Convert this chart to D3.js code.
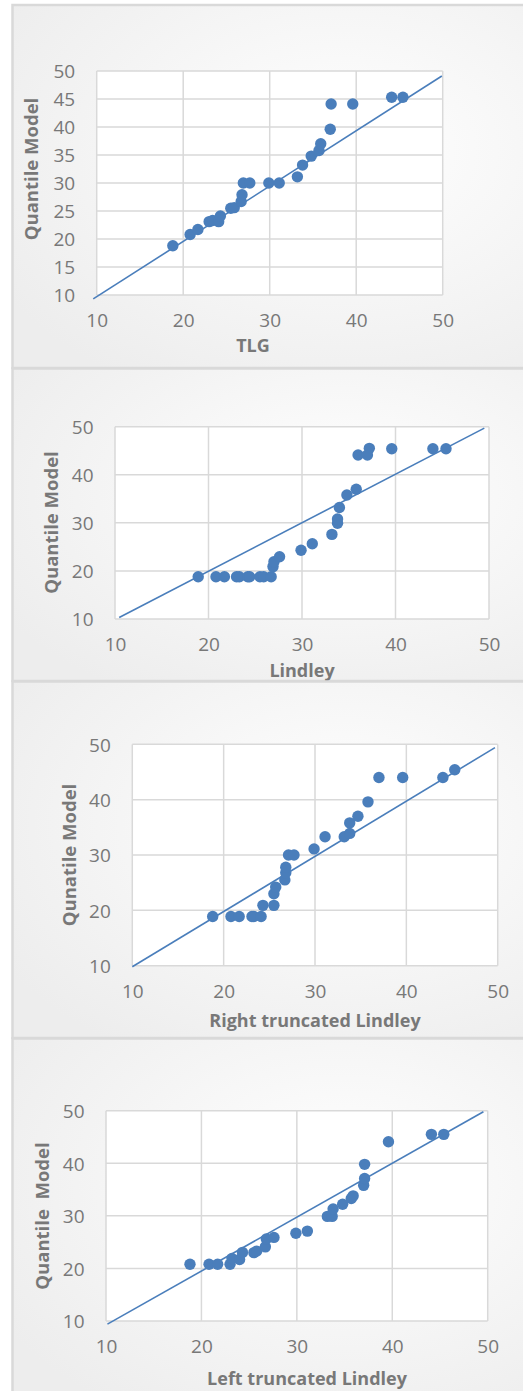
<!DOCTYPE html>
<html>
<head>
<meta charset="utf-8">
<script src="https://cdn.jsdelivr.net/npm/d3@7"></script>
<style>
  body { margin: 0; background: #ffffff; }
  svg { display: block; }
</style>
</head>
<body>
<svg id="chart" width="523" height="1391"></svg>
<script>
// ---- Q-Q plot data: empirical value (x) vs model quantile (y) ----
const tlgX = [18.8, 20.8, 21.7, 23.0, 23.4, 24.1, 24.3, 25.5, 25.9, 26.7, 26.8, 26.95, 27.7, 29.9, 31.1, 33.2, 33.8, 34.8, 35.7, 35.9, 37.0, 37.1, 39.6, 44.1, 45.4];
const tlgY = [18.8, 20.8, 21.7, 23.1, 23.3, 23.1, 24.1, 25.5, 25.6, 26.7, 27.9, 30.0, 30.0, 30.0, 30.0, 31.1, 33.2, 34.8, 35.8, 37.0, 39.6, 44.1, 44.1, 45.3, 45.3];

const lindleyX = [18.9, 20.8, 21.7, 23.0, 23.3, 24.2, 24.4, 25.5, 25.9, 26.7, 26.9, 27.0, 27.6, 29.9, 31.1, 33.2, 33.8, 33.8, 34.0, 34.8, 35.8, 36.0, 37.0, 37.2, 39.6, 44.0, 45.4];
const lindleyY = [18.8, 18.8, 18.8, 18.8, 18.8, 18.8, 18.8, 18.8, 18.8, 18.8, 20.9, 21.9, 22.95, 24.3, 25.65, 27.6, 29.9, 30.8, 33.2, 35.8, 37.0, 44.1, 44.1, 45.5, 45.4, 45.4, 45.4];

const rightX = [18.8, 20.8, 21.7, 23.1, 23.3, 24.1, 24.3, 25.5, 25.5, 25.7, 26.7, 26.8, 26.8, 27.1, 27.7, 29.9, 31.1, 33.2, 33.8, 33.8, 34.7, 35.8, 37.0, 39.6, 44.0, 45.3];
const rightY = [18.9, 18.9, 18.9, 18.9, 18.9, 18.9, 20.9, 20.9, 23.0, 24.2, 25.5, 26.8, 27.8, 30.0, 30.0, 31.1, 33.3, 33.3, 33.9, 35.8, 37.0, 39.6, 44.0, 44.0, 44.0, 45.4];

const leftX = [18.8, 20.8, 21.7, 23.0, 23.2, 24.0, 24.3, 25.5, 25.8, 26.7, 26.8, 27.6, 29.9, 31.1, 33.2, 33.7, 33.8, 34.8, 35.7, 35.9, 37.0, 37.1, 37.1, 39.6, 44.1, 45.4];
const leftY = [20.8, 20.8, 20.8, 20.8, 21.9, 21.7, 23.05, 23.0, 23.3, 24.1, 25.6, 25.9, 26.7, 27.1, 29.9, 29.9, 31.3, 32.2, 33.3, 33.8, 35.8, 37.1, 39.8, 44.1, 45.5, 45.5];

// reference line endpoints [x, y] for each panel
const tlgLine = [[9.6, 9.3], [49.9, 49.1]];
const lindleyLine = [[10.45, 10.3], [49.5, 49.7]];
const rightLine = [[10.0, 9.8], [49.7, 49.4]];
const leftLine = [[10.15, 9.4], [49.55, 49.8]];

// axis ticks and titles
const xTicks = [10, 20, 30, 40, 50];
const yTicksFine = [10, 15, 20, 25, 30, 35, 40, 45, 50];
const yTicksCoarse = [10, 20, 30, 40, 50];
const xTitles = ["TLG", "Lindley", "Right truncated Lindley", "Left truncated Lindley"];
const yTitles = ["Quantile Model", "Quantile Model", "Qunatile Model", "Quantile\u00A0 Model"];

// ---- layout of the four stacked panels ----
const panels = [
  { xs: tlgX, ys: tlgY, line: tlgLine, yTicks: yTicksFine,
    frame: [5, 368], plot: { l: 96.7, r: 442.7, t: 71, b: 295 },
    yTitlePos: [30.7, 169], xTitlePos: [253, 345] },
  { xs: lindleyX, ys: lindleyY, line: lindleyLine, yTicks: yTicksCoarse,
    frame: [368.5, 681], plot: { l: 115, r: 489, t: 426.7, b: 619 },
    yTitlePos: [50.7, 522.5], xTitlePos: [302, 670] },
  { xs: rightX, ys: rightY, line: rightLine, yTicks: yTicksCoarse,
    frame: [681.5, 1038], plot: { l: 132.3, r: 497.7, t: 744.3, b: 965.7 },
    yTitlePos: [68.3, 855], xTitlePos: [315, 1020] },
  { xs: leftX, ys: leftY, line: leftLine, yTicks: yTicksCoarse,
    frame: [1038.5, 1400], plot: { l: 106, r: 487.7, t: 1110.7, b: 1321 },
    yTitlePos: [41.7, 1216], xTitlePos: [307, 1378] }
];

const svg = d3.select("#chart");
const BLUE = "#4a7ebb";
const GRID = "#d9d9d9";
const TEXT = "#787878";
const FONT = "'Open Sans', 'DejaVu Sans', sans-serif";

// soft panel background fill
const defs = svg.append("defs");
const grad = defs.append("radialGradient")
  .attr("id", "panelFill").attr("cx", "62%").attr("cy", "40%").attr("r", "75%");
grad.append("stop").attr("offset", "0%").attr("stop-color", "#ffffff");
grad.append("stop").attr("offset", "100%").attr("stop-color", "#ededed");

panels.forEach((p, i) => {
  const g = svg.append("g");

  g.append("rect")
    .attr("x", 12.5).attr("y", p.frame[0])
    .attr("width", 530).attr("height", p.frame[1] - p.frame[0])
    .attr("fill", "url(#panelFill)")
    .attr("stroke", GRID).attr("stroke-width", 2.5);

  const x = d3.scaleLinear().domain([10, 50]).range([p.plot.l, p.plot.r]);
  const y = d3.scaleLinear().domain([10, 50]).range([p.plot.b, p.plot.t]);

  // plot area
  g.append("rect")
    .attr("x", x(10)).attr("y", y(50))
    .attr("width", x(50) - x(10)).attr("height", y(10) - y(50))
    .attr("fill", "#ffffff");

  // grid lines
  g.append("g").selectAll("line").data(p.yTicks).join("line")
    .attr("x1", x(10)).attr("x2", x(50))
    .attr("y1", d => y(d)).attr("y2", d => y(d))
    .attr("stroke", GRID).attr("stroke-width", 1.5);
  g.append("g").selectAll("line").data(xTicks).join("line")
    .attr("y1", y(10)).attr("y2", y(50))
    .attr("x1", d => x(d)).attr("x2", d => x(d))
    .attr("stroke", GRID).attr("stroke-width", 1.5);

  // axes (labels only; domain and tick marks hidden)
  const yAxis = g.append("g")
    .attr("transform", `translate(${x(10)},0)`)
    .call(d3.axisLeft(y).tickValues(p.yTicks).tickSize(0).tickPadding(21.5));
  const xAxis = g.append("g")
    .attr("transform", `translate(0,${y(10)})`)
    .call(d3.axisBottom(x).tickValues(xTicks).tickSize(0).tickPadding(19));
  [yAxis, xAxis].forEach(a => {
    a.select(".domain").remove();
    a.selectAll("text")
      .attr("fill", TEXT)
      .style("font-family", FONT)
      .style("font-size", "19px");
  });
  yAxis.selectAll("text").attr("dy", "0.36em");

  // reference line
  g.append("line")
    .attr("x1", x(p.line[0][0])).attr("y1", y(p.line[0][1]))
    .attr("x2", x(p.line[1][0])).attr("y2", y(p.line[1][1]))
    .attr("stroke", BLUE).attr("stroke-width", 1.6);

  // quantile points
  g.append("g").selectAll("circle").data(p.xs.map((v, k) => [v, p.ys[k]])).join("circle")
    .attr("cx", d => x(d[0])).attr("cy", d => y(d[1]))
    .attr("r", 5.7).attr("fill", BLUE);

  // axis titles
  g.append("text")
    .attr("x", p.xTitlePos[0]).attr("y", p.xTitlePos[1])
    .attr("text-anchor", "middle").attr("dominant-baseline", "central")
    .attr("fill", TEXT).style("font-family", FONT)
    .style("font-weight", "bold").style("font-size", "18px")
    .text(xTitles[i]);
  g.append("text")
    .attr("transform", `translate(${p.yTitlePos[0]},${p.yTitlePos[1]}) rotate(-90)`)
    .attr("text-anchor", "middle").attr("dominant-baseline", "central")
    .attr("fill", TEXT).style("font-family", FONT)
    .style("font-weight", "bold").style("font-size", "18.5px")
    .text(yTitles[i]);
});
</script>
</body>
</html>
